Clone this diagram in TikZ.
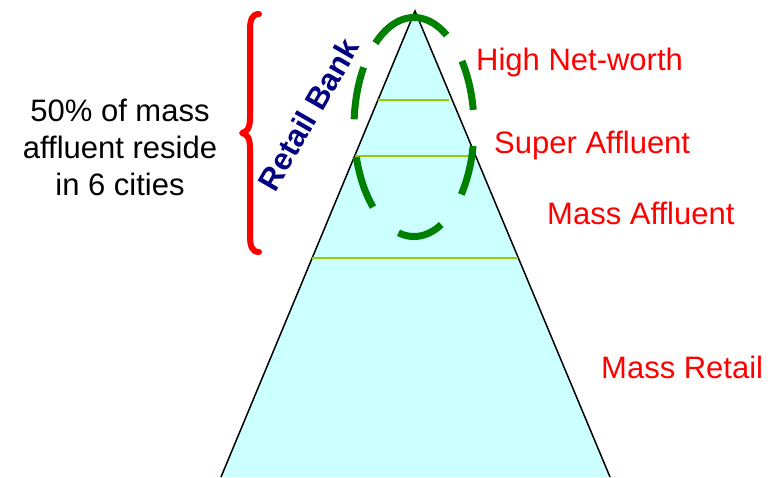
\documentclass[tikz,border=0pt]{standalone}
\usepackage{fontspec}
\setmainfont{Liberation Sans}
\usetikzlibrary{calc}
\definecolor{pyrfill}{HTML}{CCFFFF}
\definecolor{tierline}{HTML}{99CC00}
\definecolor{ringgreen}{HTML}{008000}
\definecolor{banknavy}{HTML}{000080}
\definecolor{lblred}{HTML}{FF0000}
\begin{document}
\begin{tikzpicture}[x=1pt,y=-1pt,
  lbl/.style={font=\fontsize{31}{37}\selectfont, text=lblred, inner sep=0pt, anchor=base west},
  tier/.style={draw=tierline, line width=2pt},
  ring/.style={draw=ringgreen, line width=7pt, line cap=butt},
  bracket/.style={draw=lblred, line width=6pt, line cap=round, line join=round},
]
\useasboundingbox (0,0) rectangle (778,477);
% pyramid
\coordinate (apex) at (415,11);
\coordinate (bl) at (221,477);
\coordinate (br) at (610,477);
\fill[pyrfill] (bl) -- (apex) -- (br) -- cycle;
\draw[black, line width=1.5pt, line join=miter] (bl) -- (apex) -- (br);
% tier lines
\coordinate (t1l) at ($(apex)!0.191!(bl)$);
\coordinate (t1r) at ($(apex)!0.191!(br)+(-3,0)$);
\coordinate (t2l) at ($(apex)!0.311!(bl)$);
\coordinate (t2r) at ($(apex)!0.311!(br)+(-2,0)$);
\coordinate (t3l) at ($(apex)!0.530!(bl)$);
\coordinate (t3r) at ($(apex)!0.530!(br)$);
\draw[tier] (t1l) -- (t1r);
\draw[tier] (t2l) -- (t2r);
\draw[tier] (t3l) -- (t3r);
% dashed ring
\foreach \a/\b in {9/37, 57/130, 147/176, 196/227, 255/297, 322/350}
  \draw[ring] plot[domain=\a:\b, samples=40, smooth] ({414+60*cos(\x)}, {127-109.5*sin(\x)});
% brace
\draw[bracket] (259,14) .. controls (252,14) and (250,20) .. (250,30)
  -- (250,118) .. controls (250,128) and (247,132) .. (242,133)
  .. controls (247,134) and (250,138) .. (250,148)
  -- (250,236) .. controls (250,246) and (252,252) .. (259,252);
% texts
\node[font=\fontsize{31}{37}\selectfont, align=center, anchor=base, inner sep=0pt] (note) at (120,195) {50\% of mass\\affluent reside\\in 6 cities};
\node[font=\bfseries\fontsize{31}{37}\selectfont, text=banknavy, rotate=60, anchor=base, inner sep=0pt] (bank) at (318,120) {Retail Bank};
\node[lbl] (hnw) at (476,70) {High Net-worth};
\node[lbl] (sa) at (494,153) {Super Affluent};
\node[lbl] (ma) at (547,224) {Mass Affluent};
\node[lbl] (mr) at (601,378) {Mass Retail};
\end{tikzpicture}
\end{document}
